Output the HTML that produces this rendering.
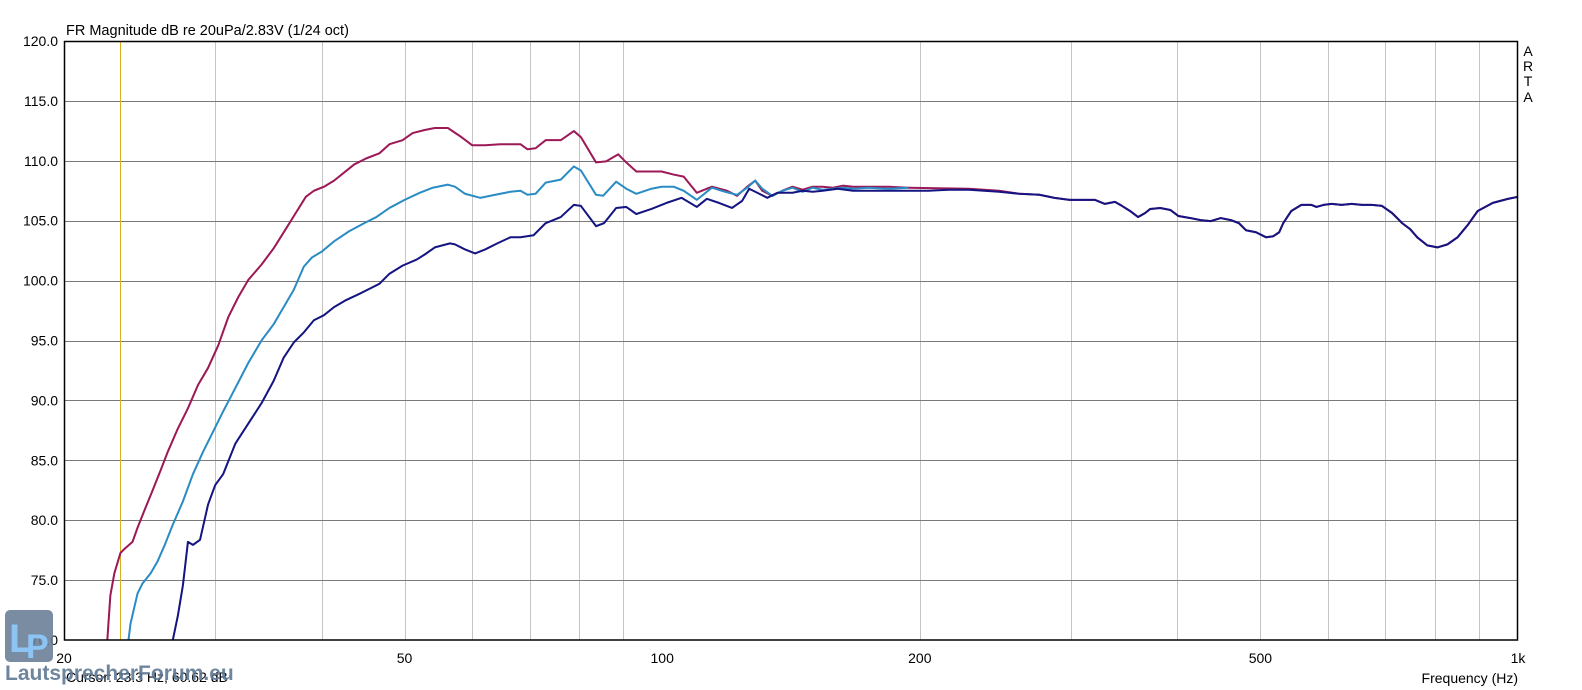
<!DOCTYPE html>
<html><head><meta charset="utf-8"><style>
html,body{margin:0;padding:0;background:#fff;}
svg{display:block;font-family:"Liberation Sans",Arial,sans-serif;}
</style></head><body>
<svg width="1582" height="690" viewBox="0 0 1582 690" xmlns="http://www.w3.org/2000/svg">
<rect width="1582" height="690" fill="#fff"/>
<g id="grid"></g>
<script>
(function(){
var ns="http://www.w3.org/2000/svg",g=document.getElementById("grid");
function L(x1,y1,x2,y2,c){var l=document.createElementNS(ns,"line");l.setAttribute("x1",x1);l.setAttribute("y1",y1);l.setAttribute("x2",x2);l.setAttribute("y2",y2);l.setAttribute("stroke",c);l.setAttribute("stroke-width","1");g.appendChild(l);}
function T(x,y,s,a){var t=document.createElementNS(ns,"text");t.setAttribute("x",x);t.setAttribute("y",y);t.setAttribute("font-size","14");t.setAttribute("text-anchor",a);t.setAttribute("fill","#000");t.textContent=s;g.appendChild(t);}
var fs=[30,40,50,60,70,80,90,200,300,400,500,600,700,800,900];
fs.forEach(function(f){var x=64+1454*Math.log10(f/20)/Math.log10(50);x=Math.round(x)+0.5;L(x,41,x,640,"#c4c4c4");});
for(var v=115;v>70;v-=5){var y=Math.round(41+(120-v)*11.98)+0.5;L(64,y,1518,y,"#7a7a7a");}
for(var v=120;v>=70;v-=5){var y=41+(120-v)*11.98;T(58,y+5,v.toFixed(1),"end");}
[[20,"20"],[50,"50"],[100,"100"],[200,"200"],[500,"500"],[1000,"1k"]].forEach(function(p){var x=64+1454*Math.log10(p[0]/20)/Math.log10(50);T(x,663,p[1],"middle");});
})();
</script>
<line x1="120.5" y1="41" x2="120.5" y2="640" stroke="#d8b020" stroke-width="1"/>
<g transform="matrix(1.00762,0,0,1.01182,1.527,-1.497)" fill="none" stroke-width="2" stroke-linejoin="round">
<polyline stroke="#9c1856" points="105,634 108,590 112,568 118,548 122,544 130,537 135,523 143,503 150,486 158,466 165,448 175,425 185,405 195,382 205,365 215,343 225,315 235,295 245,278 258,263 270,247 282,228 292,212 302,196 310,190 320,186 330,180 340,172 350,164 362,158 375,153 385,144 398,140 408,133 420,130 430,128 443,128 455,136 467,145 480,145 495,144 505,144 515,144 522,149 530,148 540,140 555,140 568,131 575,137 590,162 600,161 612,154 620,162 630,171 645,171 655,171 667,174 677,176 690,192 705,186 720,190 730,195 740,186 748,180 755,190 765,195 775,190 785,186 795,189 805,186 815,186 825,187 835,185 845,186 855,186 865,186 880,186 900,187"/>
<polyline stroke="#2a8cc4" points="126,634 128,618 131,605 135,588 140,578 148,568 155,556 162,540 170,520 180,497 190,470 200,448 210,428 220,408 232,385 245,360 258,338 270,322 280,305 290,288 300,265 308,256 318,250 330,240 345,230 360,222 372,216 385,207 400,199 415,192 428,187 443,184 450,186 460,193 475,197 490,194 505,191 515,190 522,194 530,193 540,182 555,179 568,166 575,170 590,194 597,195 610,181 620,188 630,193 645,188 655,186 667,186 677,190 690,199 705,187 718,191 730,194 740,187 748,180 755,188 765,195 775,190 785,187 795,191 805,187 815,189 825,188 835,187 845,188 860,187 880,188 900,187"/>
<polyline stroke="#9c1856" points="900,187 960,188 990,190 1010,193 1030,194 1045,197 1060,199 1075,199 1085,199 1095,203 1105,201 1112,205 1120,210 1128,216 1135,212 1140,208 1150,207 1160,209 1168,215 1180,217 1190,219 1200,220 1210,217 1220,219 1228,222 1235,229 1245,231 1255,236 1262,235 1268,231 1272,222 1280,210 1290,204 1300,204 1305,206 1312,204 1320,203 1330,204 1340,203 1350,204 1360,204 1370,205 1380,212 1390,222 1398,228 1405,236 1415,244 1425,246 1435,243 1445,236 1455,224 1465,210 1480,202 1495,198 1505,196"/>
<polyline stroke="#141482" points="170,634 175,610 180,580 185,537 190,540 197,535 205,500 212,481 220,470 232,440 245,420 258,400 270,378 280,355 290,340 300,330 310,318 320,313 330,305 342,298 355,292 365,287 375,282 385,272 398,264 412,258 420,253 430,246 445,242 450,243 460,248 470,252 480,248 492,242 505,236 515,236 528,234 540,222 555,216 568,204 575,205 590,225 598,222 610,207 620,206 630,213 645,208 660,202 675,197 690,206 700,198 712,202 725,207 735,200 742,188 750,192 760,197 770,192 785,192 795,190 805,191 815,190 830,188 845,190 860,190 880,190 900,190 920,190 940,189 960,189 990,191 1010,193 1030,194 1045,197 1060,199 1075,199 1085,199 1095,203 1105,201 1112,205 1120,210 1128,216 1135,212 1140,208 1150,207 1160,209 1168,215 1180,217 1190,219 1200,220 1210,217 1220,219 1228,222 1235,229 1245,231 1255,236 1262,235 1268,231 1272,222 1280,210 1290,204 1300,204 1305,206 1312,204 1320,203 1330,204 1340,203 1350,204 1360,204 1370,205 1380,212 1390,222 1398,228 1405,236 1415,244 1425,246 1435,243 1445,236 1455,224 1465,210 1480,202 1495,198 1505,196"/>
</g>
<rect x="64.5" y="41.5" width="1453" height="598.5" fill="none" stroke="#000" stroke-width="1.5"/>
<text x="66" y="35" font-size="14.5">FR Magnitude dB re 20uPa/2.83V (1/24 oct)</text>
<g font-size="14" text-anchor="middle"><text x="1528" y="56">A</text><text x="1528" y="71">R</text><text x="1528" y="86">T</text><text x="1528" y="102">A</text></g>
<text x="1518" y="683" font-size="14" text-anchor="end">Frequency (Hz)</text>
<text x="66" y="682" font-size="14">Cursor: 23.3 Hz, 60.62 dB</text>
<rect x="5" y="610" width="48" height="52" rx="5" fill="#6a7f98" opacity="0.9"/>
<text x="9" y="652" font-size="40" font-weight="bold" fill="#8cc4f4">L</text>
<text x="26" y="658" font-size="34" font-weight="bold" fill="#8cc4f4">P</text>
<text x="5" y="680" font-size="21" font-weight="bold" fill="#5f7894" opacity="0.9">LautsprecherForum.eu</text>
</svg>
</body></html>
